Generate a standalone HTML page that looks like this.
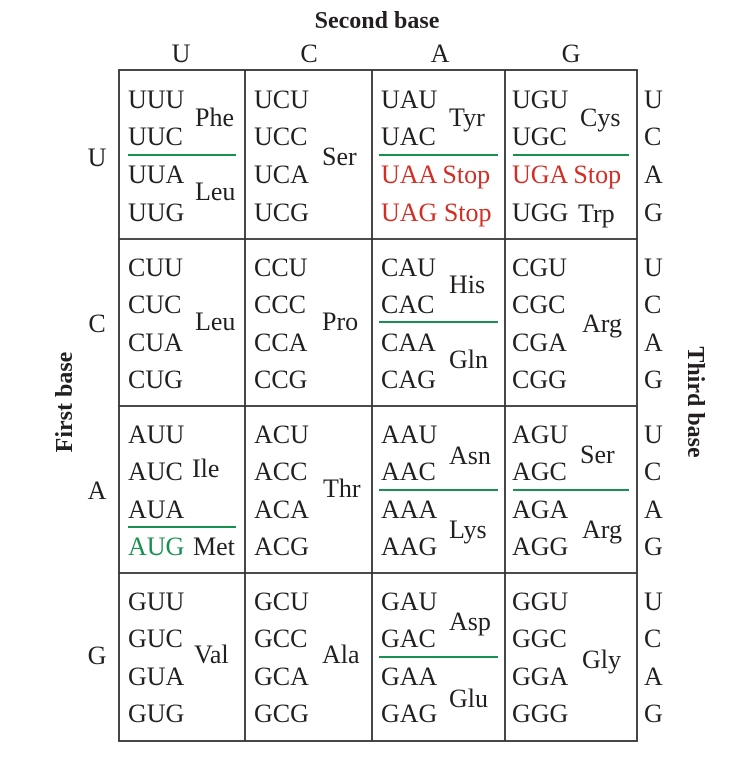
<!DOCTYPE html>
<html><head><meta charset="utf-8"><style>
html,body{margin:0;padding:0;background:#fff;}
svg{display:block;}
text{font-family:"Liberation Serif",serif;font-size:26px;fill:#231f20;}
.r{fill:#d42e24;}
.g{fill:#1a9050;}
.b{font-weight:bold;font-size:24px;}
</style></head><body>
<svg width="746" height="768" viewBox="0 0 746 768">
<text x="377" y="28" text-anchor="middle" class="b">Second base</text>
<g text-anchor="middle">
<text x="181" y="62">U</text><text x="309" y="62">C</text><text x="440" y="62">A</text><text x="571" y="62">G</text>
<text x="97" y="166">U</text><text x="97" y="332">C</text><text x="97" y="499">A</text><text x="97" y="664">G</text>
</g>
<text transform="translate(72,402) rotate(-90)" text-anchor="middle" class="b">First base</text>
<text transform="translate(688,402) rotate(90)" text-anchor="middle" class="b">Third base</text>
<g fill="none" stroke="#333" stroke-width="1.8">
<rect x="119" y="70" width="518" height="671"/>
<line x1="245" y1="70" x2="245" y2="741"/><line x1="372" y1="70" x2="372" y2="741"/><line x1="505" y1="70" x2="505" y2="741"/>
<line x1="119" y1="239" x2="637" y2="239"/><line x1="119" y1="406" x2="637" y2="406"/><line x1="119" y1="573" x2="637" y2="573"/>
</g>
<g stroke="#1a9050" stroke-width="2">
<line x1="128" y1="155" x2="236" y2="155"/><line x1="379" y1="155" x2="498" y2="155"/><line x1="513" y1="155" x2="629" y2="155"/>
<line x1="379" y1="322" x2="498" y2="322"/>
<line x1="128" y1="527" x2="236" y2="527"/><line x1="379" y1="490" x2="498" y2="490"/><line x1="513" y1="490" x2="629" y2="490"/>
<line x1="379" y1="657" x2="498" y2="657"/>
</g>
<g>
<text x="644" y="108">U</text><text x="644" y="145">C</text><text x="644" y="183">A</text><text x="644" y="221">G</text>
<text x="644" y="276">U</text><text x="644" y="313">C</text><text x="644" y="351">A</text><text x="644" y="388">G</text>
<text x="644" y="443">U</text><text x="644" y="480">C</text><text x="644" y="518">A</text><text x="644" y="555">G</text>
<text x="644" y="610">U</text><text x="644" y="647">C</text><text x="644" y="685">A</text><text x="644" y="722">G</text>
</g>
<text x="128" y="108">UUU</text><text x="128" y="145">UUC</text><text x="128" y="183">UUA</text><text x="128" y="221">UUG</text>
<text x="195" y="126">Phe</text><text x="195" y="200">Leu</text>
<text x="254" y="108">UCU</text><text x="254" y="145">UCC</text><text x="254" y="183">UCA</text><text x="254" y="221">UCG</text>
<text x="322" y="165">Ser</text>
<text x="381" y="108">UAU</text><text x="381" y="145">UAC</text><text x="381" y="183" class="r">UAA Stop</text><text x="381" y="221" class="r">UAG Stop</text>
<text x="449" y="126">Tyr</text>
<text x="512" y="108">UGU</text><text x="512" y="145">UGC</text><text x="512" y="183" class="r">UGA Stop</text><text x="512" y="221">UGG</text>
<text x="580" y="126">Cys</text><text x="578" y="222">Trp</text>
<text x="128" y="276">CUU</text><text x="128" y="313">CUC</text><text x="128" y="351">CUA</text><text x="128" y="388">CUG</text>
<text x="195" y="330">Leu</text>
<text x="254" y="276">CCU</text><text x="254" y="313">CCC</text><text x="254" y="351">CCA</text><text x="254" y="388">CCG</text>
<text x="322" y="330">Pro</text>
<text x="381" y="276">CAU</text><text x="381" y="313">CAC</text><text x="381" y="351">CAA</text><text x="381" y="388">CAG</text>
<text x="449" y="293">His</text><text x="449" y="368">Gln</text>
<text x="512" y="276">CGU</text><text x="512" y="313">CGC</text><text x="512" y="351">CGA</text><text x="512" y="388">CGG</text>
<text x="582" y="332">Arg</text>
<text x="128" y="443">AUU</text><text x="128" y="480">AUC</text><text x="128" y="518">AUA</text><text x="128" y="555" class="g">AUG</text>
<text x="192" y="477">Ile</text><text x="193" y="555">Met</text>
<text x="254" y="443">ACU</text><text x="254" y="480">ACC</text><text x="254" y="518">ACA</text><text x="254" y="555">ACG</text>
<text x="323" y="497">Thr</text>
<text x="381" y="443">AAU</text><text x="381" y="480">AAC</text><text x="381" y="518">AAA</text><text x="381" y="555">AAG</text>
<text x="449" y="464">Asn</text><text x="449" y="538">Lys</text>
<text x="512" y="443">AGU</text><text x="512" y="480">AGC</text><text x="512" y="518">AGA</text><text x="512" y="555">AGG</text>
<text x="580" y="463">Ser</text><text x="582" y="538">Arg</text>
<text x="128" y="610">GUU</text><text x="128" y="647">GUC</text><text x="128" y="685">GUA</text><text x="128" y="722">GUG</text>
<text x="194" y="663">Val</text>
<text x="254" y="610">GCU</text><text x="254" y="647">GCC</text><text x="254" y="685">GCA</text><text x="254" y="722">GCG</text>
<text x="322" y="663">Ala</text>
<text x="381" y="610">GAU</text><text x="381" y="647">GAC</text><text x="381" y="685">GAA</text><text x="381" y="722">GAG</text>
<text x="449" y="630">Asp</text><text x="449" y="707">Glu</text>
<text x="512" y="610">GGU</text><text x="512" y="647">GGC</text><text x="512" y="685">GGA</text><text x="512" y="722">GGG</text>
<text x="582" y="668">Gly</text>
</svg>
</body></html>
